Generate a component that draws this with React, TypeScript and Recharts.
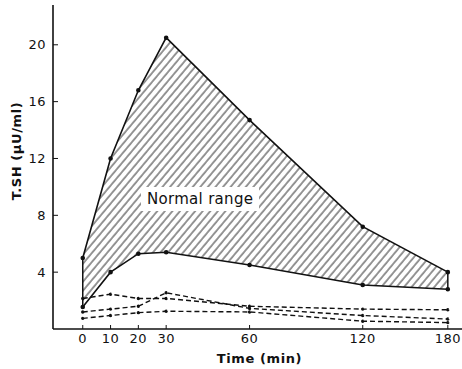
import React from 'react';
import { ComposedChart, Area, Line, XAxis, YAxis, ReferenceLine, Label } from 'recharts';

const times = [0, 10, 20, 30, 60, 120, 180];
const normalHigh = [5.0, 12.0, 16.8, 20.5, 14.7, 7.2, 4.0];
const normalLow = [1.55, 4.0, 5.3, 5.4, 4.5, 3.1, 2.8];
const patientA = [2.15, 2.45, 2.15, 2.15, 1.6, 1.4, 1.35];
const patientB = [1.2, 1.4, 1.6, 2.55, 1.45, 0.95, 0.7];
const patientC = [0.75, 0.95, 1.15, 1.25, 1.2, 0.55, 0.45];
const yTicks = [4, 8, 12, 16, 20];

// the original time axis is not linear: stretched up to 60 min, squeezed after
const axisTimes = [0, 60, 120, 180];
const axisUnits = [0, 60, 100.7, 131.3];

const warp = (t: number) => {
  for (let i = 1; i < axisTimes.length; i++) {
    if (t <= axisTimes[i]) {
      const f = (t - axisTimes[i - 1]) / (axisTimes[i] - axisTimes[i - 1]);
      return axisUnits[i - 1] + f * (axisUnits[i] - axisUnits[i - 1]);
    }
  }
  return axisUnits[axisUnits.length - 1];
};

const data = times.map((t, i) => ({
  pos: warp(t),
  range: [normalLow[i], normalHigh[i]],
  high: normalHigh[i],
  low: normalLow[i],
  a: patientA[i],
  b: patientB[i],
  c: patientC[i],
}));

const font = '"DejaVu Sans", sans-serif';
const ink = '#111';
const tickStyle = { fill: ink, fontSize: 13, fontFamily: font, letterSpacing: 0.5 };

export default function App() {
  const last = times.length - 1;
  return (
    <div style={{ position: 'absolute', left: 0, top: 0, width: 462, height: 369, background: '#fff' }}>
      <ComposedChart width={462} height={369} data={data} margin={{ top: 5, right: 0, left: 0, bottom: 0 }}>
        <defs>
          <pattern id="hatch" patternUnits="userSpaceOnUse" width="5.8" height="10" patternTransform="rotate(40)">
            <line x1="1" y1="0" x2="1" y2="10" stroke={ink} strokeWidth="0.9" />
          </pattern>
        </defs>
        <XAxis
          type="number"
          dataKey="pos"
          domain={[-10.7, 136.4]}
          allowDataOverflow
          ticks={times.map(warp)}
          tickFormatter={(v: number, i: number) => String(times[i])}
          interval={0}
          height={40}
          axisLine={{ stroke: ink, strokeWidth: 1.6 }}
          tickLine={{ stroke: ink, strokeWidth: 1 }}
          tickSize={-4}
          tickMargin={9}
          tick={tickStyle}
        >
          <Label
            content={(p: any) => {
              const vb = p.viewBox;
              return (
                <text x={vb.x + vb.width / 2 + 2} y={vb.y + 34} textAnchor="middle" fontFamily={font} fontSize={13} fontWeight="bold" fill={ink} letterSpacing={0.6}>
                  Time (min)
                </text>
              );
            }}
          />
        </XAxis>
        <YAxis
          type="number"
          domain={[0, 22.8]}
          allowDataOverflow
          ticks={yTicks}
          width={53}
          axisLine={{ stroke: ink, strokeWidth: 1.6 }}
          tickLine={{ stroke: ink, strokeWidth: 1 }}
          tickSize={-5}
          tickMargin={12}
          tick={tickStyle}
        >
          <Label
            content={(p: any) => {
              const vb = p.viewBox;
              const cx = 16;
              const cy = vb.y + vb.height / 2 - 16;
              return (
                <text x={cx} y={cy} transform={`rotate(-90 ${cx} ${cy})`} textAnchor="middle" dominantBaseline="central" fontFamily={font} fontSize={13} fontWeight="bold" fill={ink} letterSpacing={0.6}>
                  T.SH (μU/ml)
                </text>
              );
            }}
          />
        </YAxis>
        <Area dataKey="range" type="linear" fill="url(#hatch)" fillOpacity={1} stroke="none" isAnimationActive={false} />
        <ReferenceLine segment={[{ x: warp(times[0]), y: normalLow[0] }, { x: warp(times[0]), y: normalHigh[0] }]} stroke={ink} strokeWidth={1.5} />
        <ReferenceLine segment={[{ x: warp(times[last]), y: normalLow[last] }, { x: warp(times[last]), y: normalHigh[last] }]} stroke={ink} strokeWidth={1.5} />
        <Line dataKey="high" type="linear" stroke={ink} strokeWidth={1.6} dot={{ r: 1.5, fill: ink, stroke: ink }} isAnimationActive={false} />
        <Line dataKey="low" type="linear" stroke={ink} strokeWidth={1.6} dot={{ r: 1.5, fill: ink, stroke: ink }} isAnimationActive={false} />
        <Line dataKey="a" type="linear" stroke={ink} strokeWidth={1.4} strokeDasharray="5 3" dot={{ r: 1, fill: ink, stroke: ink }} isAnimationActive={false} />
        <Line dataKey="b" type="linear" stroke={ink} strokeWidth={1.4} strokeDasharray="5 3" dot={{ r: 1, fill: ink, stroke: ink }} isAnimationActive={false} />
        <Line dataKey="c" type="linear" stroke={ink} strokeWidth={1.4} strokeDasharray="5 3" dot={{ r: 1, fill: ink, stroke: ink }} isAnimationActive={false} />
      </ComposedChart>
      <div
        style={{
          position: 'absolute',
          left: 141,
          top: 187,
          padding: '3px 6px',
          background: '#fff',
          fontFamily: font,
          fontSize: 15,
          letterSpacing: 0.3,
          color: ink,
          lineHeight: 'normal',
        }}
      >
        Normal range
      </div>
    </div>
  );
}
